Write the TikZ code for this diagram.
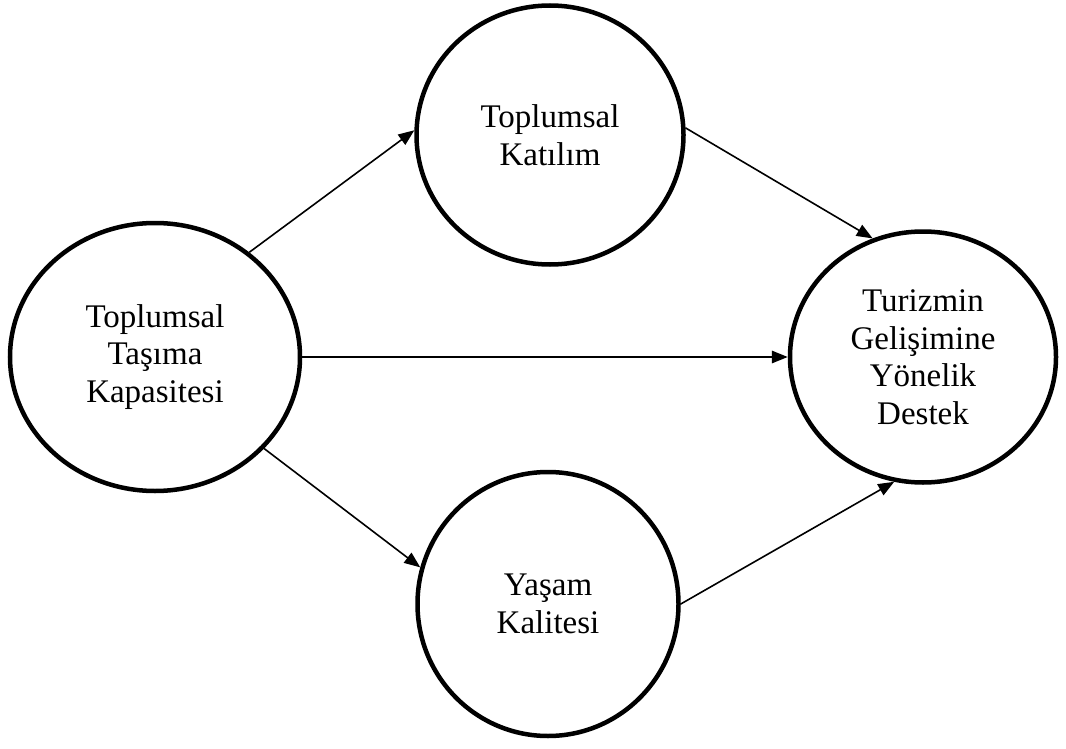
\documentclass[tikz,border=0pt]{standalone}
\usepackage{fontspec}
\setmainfont{Liberation Serif}
\usetikzlibrary{shapes.geometric,arrows.meta}
\begin{document}
\begin{tikzpicture}[x=1pt,y=-1pt,
  blob/.style={draw, line width=4.5pt, ellipse, inner sep=0pt, align=center,
    font=\fontsize{33}{37.5}\selectfont},
  link/.style={line width=1.6pt, -{Triangle[length=16pt,width=12.5pt]}}]
\useasboundingbox (0,0) rectangle (1066,749);
\node[blob, minimum width=290pt, minimum height=268pt] (L) at (155,357) {Toplumsal\\Taşıma\\Kapasitesi};
\node[blob, minimum width=267pt, minimum height=259pt] (T) at (550,135) {Toplumsal\\Katılım};
\node[blob, minimum width=266pt, minimum height=251pt] (R) at (923,357) {Turizmin\\Gelişimine\\Yönelik\\Destek};
\node[blob, minimum width=261pt, minimum height=264pt] (B) at (548,604) {Yaşam\\Kalitesi};
\draw[link] (L.48) -- (T.178);
\draw[link] (T.3) -- (R.113);
\draw[link] (L) -- (R);
\draw[link] (L.-40) -- (B.164);
\draw[link] (B.0) -- (R.257);
\end{tikzpicture}
\end{document}
